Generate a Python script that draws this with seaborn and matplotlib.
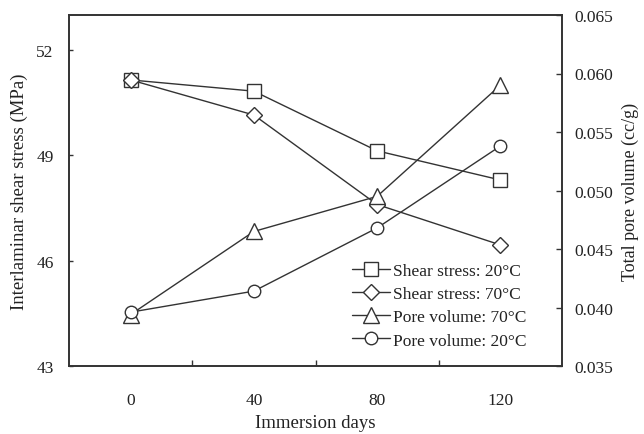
import matplotlib
matplotlib.use("Agg")
import matplotlib.pyplot as plt
import seaborn as sns
import pandas as pd

days = [0, 40, 80, 120]
shear_20 = [51.15, 50.83, 49.13, 48.30]
shear_70 = [51.15, 50.15, 47.60, 46.45]
pore_70 = [0.0394, 0.0465, 0.0495, 0.0590]
pore_20 = [0.0396, 0.0414, 0.0468, 0.0538]

left_ticks = [43, 46, 49, 52]
right_ticks = [0.035, 0.040, 0.045, 0.050, 0.055, 0.060, 0.065]
x_labels = ["0", "40", "80", "120"]

sns.set_style("white")
plt.rcParams['font.family'] = ['Liberation Serif', 'DejaVu Serif']

fig = plt.figure(figsize=(6.44, 4.35), dpi=100)
ax = fig.add_axes([69/644, 1 - 367/435, (562 - 69)/644, (367 - 16)/435])
ax2 = ax.twinx()

col = "#333333"
tcol = "#222222"
lw = 1.0
common = dict(color=col, linewidth=lw, markerfacecolor="white",
              markeredgecolor=col, markeredgewidth=1.0)

df_s20 = pd.DataFrame({"days": days, "v": shear_20})
df_s70 = pd.DataFrame({"days": days, "v": shear_70})
df_p70 = pd.DataFrame({"days": days, "v": pore_70})
df_p20 = pd.DataFrame({"days": days, "v": pore_20})

sns.lineplot(data=df_s20, x="days", y="v", ax=ax, marker="s", markersize=10,
             label="Shear stress: 20°C", legend=False, **common)
sns.lineplot(data=df_s70, x="days", y="v", ax=ax, marker="D", markersize=8,
             label="Shear stress: 70°C", legend=False, **common)
sns.lineplot(data=df_p70, x="days", y="v", ax=ax2, marker="^", markersize=11,
             label="Pore volume: 70°C", legend=False, **common)
sns.lineplot(data=df_p20, x="days", y="v", ax=ax2, marker="o", markersize=9,
             label="Pore volume: 20°C", legend=False, **common)

ax.set_xlim(-20, 140)
ax.set_ylim(43, 53)
ax2.set_ylim(0.035, 0.065)

ax.set_xticks(days)
ax.set_xticklabels(x_labels)
ax.set_xticks([20, 60, 100], minor=True)
ax.tick_params(axis="x", which="major", length=0, pad=19, labelsize=12.5, colors=tcol)
ax.tick_params(axis="x", which="minor", direction="in", length=4, width=1, color=col, bottom=True)

ax.set_yticks(left_ticks)
ax.tick_params(axis="y", which="major", direction="in", length=3, width=1, labelsize=12.5,
               color=col, pad=11, labelcolor=tcol)

ax2.set_yticks(right_ticks)
ax2.set_yticklabels([f"{t:.3f}" for t in right_ticks])
ax2.tick_params(axis="y", which="major", direction="in", length=4, width=1, labelsize=12.5,
                color=col, pad=9, labelcolor=tcol)

for a in (ax, ax2):
    for s in a.spines.values():
        s.set_visible(True)
        s.set_color(col)
        s.set_linewidth(1.2)

ax.set_xlabel("Immersion days", fontsize=13.5, labelpad=4, color=tcol)
ax.set_ylabel("Interlaminar shear stress (MPa)", fontsize=13.5, labelpad=6, color=tcol)
ax2.set_ylabel("Total pore volume (cc/g)", fontsize=13, labelpad=6, color=tcol)

h1, l1 = ax.get_legend_handles_labels()
h2, l2 = ax2.get_legend_handles_labels()
leg = ax2.legend(h1 + h2, l1 + l2, loc="lower right", bbox_to_anchor=(0.95, 0.02),
                 frameon=False, fontsize=12.5, handlelength=2.2, handletextpad=0.2,
                 labelspacing=0.4, borderaxespad=0.2)
for t in leg.get_texts():
    t.set_color(tcol)

fig.savefig("out.png", dpi=100)
